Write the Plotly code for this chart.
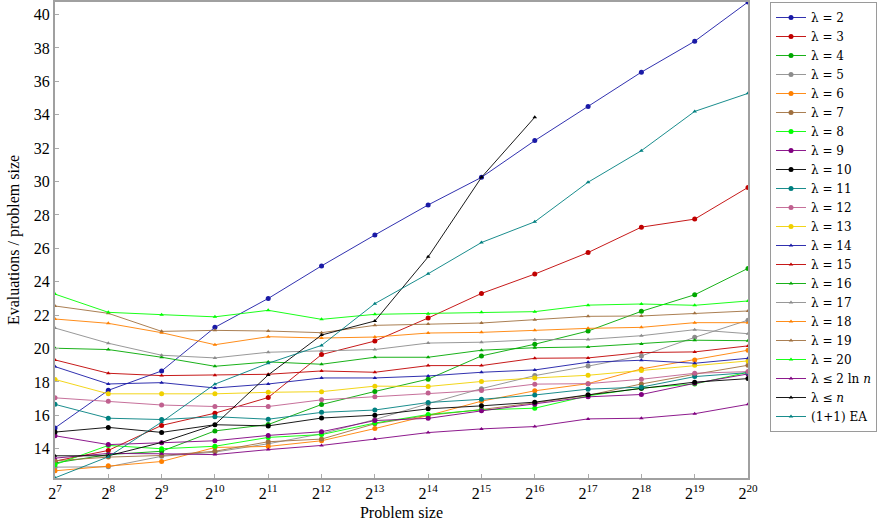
import plotly.graph_objects as go

exponents = list(range(7, 21))
sizes = [2 ** k for k in exponents]
tick_labels = [f"2<sup>{k}</sup>" for k in exponents]

names = ["λ = 2", "λ = 3", "λ = 4", "λ = 5", "λ = 6", "λ = 7", "λ = 8", "λ = 9",
         "λ = 10", "λ = 11", "λ = 12", "λ = 13", "λ = 14", "λ = 15", "λ = 16",
         "λ = 17", "λ = 18", "λ = 19", "λ = 20", "λ ≤ 2 ln <i>n</i>", "λ ≤ <i>n</i>",
         "(1+1) EA"]

lam2 = [15.25, 17.5, 18.66, 21.27, 23.0, 24.95, 26.8, 28.6, 30.25, 32.45, 34.5, 36.55, 38.4, 40.75]
lam3 = [13.26, 13.9, 15.4, 16.13, 17.07, 19.64, 20.45, 21.83, 23.3, 24.46, 25.75, 27.27, 27.75, 29.65]
lam4 = [13.15, 13.65, 13.85, 15.07, 15.45, 16.65, 17.43, 18.17, 19.56, 20.26, 21.05, 22.23, 23.22, 24.8]
lam5 = [12.9, 12.92, 13.55, 13.8, 14.3, 14.9, 15.75, 16.7, 17.6, 18.38, 18.95, 19.56, 20.67, 21.7]
lam6 = [12.68, 12.98, 13.24, 14.08, 14.14, 14.48, 15.21, 15.99, 16.85, 17.47, 17.9, 18.78, 19.32, 19.9]
lam7 = [13.28, 13.5, 13.6, 13.85, 14.42, 14.58, 15.5, 16.0, 16.35, 16.75, 17.2, 17.88, 18.46, 19.0]
lam8 = [13.05, 14.2, 14.0, 14.15, 14.68, 14.85, 15.54, 16.05, 16.33, 16.43, 17.17, 17.63, 17.88, 18.58]
lam9 = [14.78, 14.25, 14.36, 14.48, 14.8, 15.02, 15.69, 15.82, 16.27, 16.67, 17.11, 17.25, 17.92, 18.48]
lam10 = [15.0, 15.28, 14.98, 15.44, 15.37, 15.84, 16.01, 16.39, 16.57, 16.79, 17.23, 17.63, 17.99, 18.2]
lam11 = [16.66, 15.83, 15.75, 15.92, 15.77, 16.18, 16.32, 16.77, 16.96, 17.22, 17.57, 17.69, 18.32, 18.56]
lam12 = [17.05, 16.85, 16.62, 16.53, 16.53, 16.93, 17.12, 17.34, 17.49, 17.87, 17.9, 18.16, 18.52, 18.62]
lam13 = [18.15, 17.29, 17.29, 17.29, 17.38, 17.42, 17.75, 17.73, 18.03, 18.24, 18.4, 18.68, 19.0, 19.26]
lam14 = [18.92, 17.88, 17.96, 17.64, 17.88, 18.24, 18.24, 18.36, 18.58, 18.72, 19.18, 19.3, 19.12, 19.42]
lam15 = [19.32, 18.52, 18.38, 18.4, 18.46, 18.66, 18.58, 18.98, 18.98, 19.42, 19.44, 19.76, 19.8, 20.16]
lam16 = [20.02, 19.94, 19.48, 18.94, 19.2, 19.06, 19.48, 19.48, 19.9, 20.05, 20.1, 20.28, 20.5, 20.47]
lam17 = [21.23, 20.32, 19.6, 19.44, 19.78, 19.86, 19.94, 20.33, 20.38, 20.53, 20.55, 20.77, 21.13, 20.89]
lam18 = [21.77, 21.51, 20.95, 20.23, 20.71, 20.63, 20.69, 20.93, 20.97, 21.1, 21.21, 21.27, 21.55, 21.55]
lam19 = [22.55, 22.11, 21.03, 21.09, 21.05, 20.95, 21.39, 21.47, 21.53, 21.73, 21.93, 21.95, 22.11, 22.25]
lam20 = [23.26, 22.17, 22.03, 21.9, 22.29, 21.75, 22.05, 22.09, 22.17, 22.21, 22.6, 22.67, 22.59, 22.85]
lam_2ln = [13.44, 13.72, 13.7, 13.65, 13.95, 14.2, 14.58, 14.97, 15.19, 15.33, 15.79, 15.83, 16.1, 16.66]
lam_n = [13.58, 13.58, 14.38, 15.44, 18.42, 20.81, 21.65, 25.49, 30.25, 33.85]
ea = [12.26, 13.52, 15.6, 17.87, 19.12, 20.19, 22.69, 24.48, 26.35, 27.59, 29.96, 31.85, 34.2, 35.28]

series = [lam2, lam3, lam4, lam5, lam6, lam7, lam8, lam9, lam10, lam11, lam12, lam13,
          lam14, lam15, lam16, lam17, lam18, lam19, lam20, lam_2ln, lam_n, ea]

colors = ["#1a1aa6", "#c00000", "#00a800", "#8c8c8c", "#ff8000", "#a0703f", "#00ff00",
          "#800080", "#000000", "#008080", "#c0608f", "#f0d000",
          "#1a1aa6", "#c00000", "#00a800", "#8c8c8c", "#ff8000", "#a0703f", "#00ff00",
          "#800080", "#000000", "#008080"]

font_family = "Liberation Serif, DejaVu Serif, serif"
legend_family = "DejaVu Serif, Liberation Serif, serif"

fig = go.Figure()
for i, (name, vals, col) in enumerate(zip(names, series, colors)):
    dot = i < 12
    fig.add_trace(go.Scatter(
        x=sizes[:len(vals)], y=vals, name=name, mode="lines+markers",
        line=dict(color=col, width=0.9),
        marker=dict(symbol="circle" if dot else "triangle-up",
                    size=5 if dot else 4, color=col),
    ))

fig.update_layout(
    width=878, height=526,
    margin=dict(l=55, r=130, t=2, b=48, autoexpand=False),
    paper_bgcolor="white", plot_bgcolor="white",
    font=dict(family=font_family, size=15, color="black"),
    showlegend=True,
    legend=dict(xref="container", yref="container",
                x=770 / 878, y=1 - 2 / 526, xanchor="left", yanchor="top",
                maxheight=520,
                bordercolor="#9a9a9a", borderwidth=1, bgcolor="white",
                font=dict(family=legend_family, size=12),
                itemwidth=30, tracegroupgap=0),
)
fig.update_xaxes(
    type="log", range=[7 * 0.30103, 20 * 0.30103], automargin=False,
    tickvals=sizes, ticktext=tick_labels,
    ticks="inside", ticklen=4, tickcolor="#aaaaaa",
    showline=True, linecolor="#a0a0a0", linewidth=2, mirror=True,
    showgrid=False, zeroline=False,
    tickfont=dict(family=font_family, size=16),
    title=dict(text="Problem size", font=dict(family=font_family, size=16), standoff=6),
)
fig.update_yaxes(
    range=[12.25, 40.75], tickvals=list(range(14, 41, 2)), automargin=False,
    ticks="inside", ticklen=4, tickcolor="#aaaaaa",
    showline=True, linecolor="#a0a0a0", linewidth=2, mirror=True,
    showgrid=False, zeroline=False,
    tickfont=dict(family=font_family, size=16),
    title=dict(text="Evaluations / problem size", font=dict(family=font_family, size=16), standoff=10),
)

fig.write_html("out.html", config={"displayModeBar": False},
               post_script="document.body.style.margin='0';")
